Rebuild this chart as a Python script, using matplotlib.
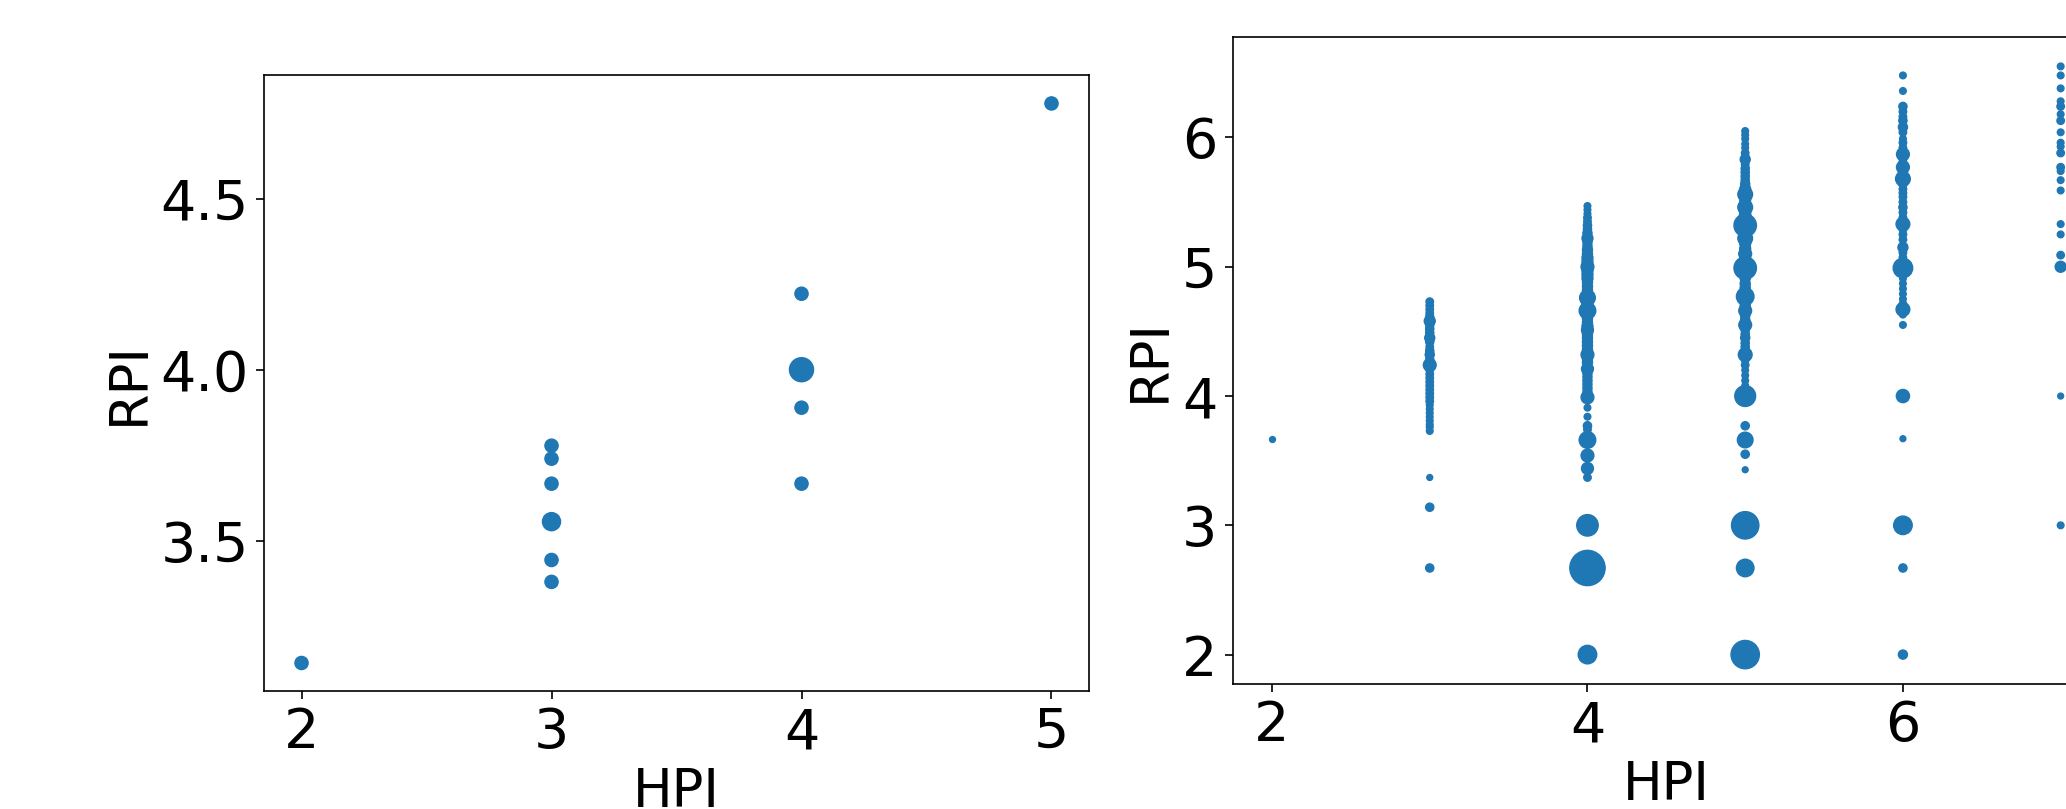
import matplotlib.pyplot as plt

# left panel: mean RPI per HPI (bubble weight ~ number of cases)
hpi_a = [2, 3, 3, 3, 3, 3, 3, 4, 4, 4, 4, 5]
rpi_a = [3.143, 3.778, 3.74, 3.667, 3.556, 3.444, 3.38, 4.222, 4.0, 3.889, 3.667, 4.778]
w_a = [90, 90, 90, 90, 170, 90, 90, 90, 300, 90, 90, 90]

# right panel: (RPI, weight) pairs for each HPI value
col2 = [(3.67, 8)]
col3 = [(4.73, 19), (4.70, 19), (4.67, 19), (4.64, 19), (4.61, 25), (4.58, 52),
        (4.55, 25), (4.52, 25), (4.49, 25), (4.45, 42), (4.42, 25), (4.38, 19),
        (4.35, 25), (4.32, 33), (4.28, 25), (4.24, 75), (4.21, 25), (4.17, 19),
        (4.14, 19), (4.11, 19), (4.08, 19), (4.05, 19), (4.02, 19), (3.99, 19),
        (3.96, 19), (3.93, 13), (3.90, 13), (3.87, 13), (3.84, 13), (3.81, 13),
        (3.78, 13), (3.76, 13), (3.73, 13), (3.37, 8), (3.14, 25), (2.67, 25)]
col4 = [(5.47, 13), (5.44, 13), (5.41, 13), (5.38, 19), (5.35, 19), (5.32, 25),
        (5.29, 25), (5.26, 33), (5.22, 52), (5.19, 33), (5.16, 33), (5.13, 42),
        (5.10, 42), (5.07, 52), (5.04, 52), (5.00, 75), (4.97, 52), (4.94, 52),
        (4.91, 52), (4.88, 42), (4.85, 42), (4.82, 42), (4.79, 52), (4.76, 117),
        (4.73, 52), (4.70, 52), (4.66, 133), (4.63, 52), (4.60, 42), (4.57, 42),
        (4.54, 52), (4.51, 63), (4.48, 42), (4.45, 42), (4.42, 42), (4.39, 42),
        (4.36, 42), (4.32, 75), (4.29, 42), (4.26, 42), (4.21, 63), (4.18, 33),
        (4.15, 33), (4.12, 33), (4.09, 33), (4.06, 33), (4.03, 33), (3.99, 75),
        (3.91, 13), (3.84, 13), (3.77, 25), (3.74, 19), (3.66, 133), (3.54, 75),
        (3.44, 63), (3.37, 19), (3.00, 229), (2.67, 635), (2.00, 168)]
col5 = [(6.05, 13), (6.02, 13), (5.99, 13), (5.95, 13), (5.92, 13), (5.88, 19),
        (5.85, 19), (5.83, 42), (5.79, 19), (5.76, 25), (5.73, 25), (5.70, 25),
        (5.67, 25), (5.64, 33), (5.60, 52), (5.56, 102), (5.52, 52), (5.49, 52),
        (5.46, 102), (5.42, 52), (5.39, 63), (5.35, 63), (5.32, 251), (5.28, 63),
        (5.25, 63), (5.22, 102), (5.18, 52), (5.14, 52), (5.10, 75), (5.06, 52),
        (5.03, 63), (4.99, 251), (4.95, 52), (4.91, 42), (4.87, 42), (4.84, 42),
        (4.81, 52), (4.77, 150), (4.74, 42), (4.70, 42), (4.66, 75), (4.62, 33),
        (4.59, 33), (4.55, 75), (4.51, 25), (4.48, 25), (4.45, 33), (4.41, 25),
        (4.38, 25), (4.35, 25), (4.32, 88), (4.28, 19), (4.24, 19), (4.20, 13),
        (4.16, 13), (4.12, 13), (4.08, 13), (4.04, 13), (4.00, 215), (3.77, 25),
        (3.66, 117), (3.55, 25), (3.43, 8), (3.00, 378), (2.67, 150), (2.00, 406)]
col6 = [(6.48, 13), (6.36, 13), (6.24, 25), (6.20, 19), (6.16, 19), (6.13, 25),
        (6.08, 33), (6.04, 19), (5.99, 13), (5.96, 19), (5.92, 19), (5.87, 75),
        (5.84, 25), (5.80, 25), (5.77, 75), (5.73, 33), (5.68, 102), (5.64, 25),
        (5.60, 19), (5.57, 19), (5.54, 19), (5.50, 19), (5.46, 25), (5.42, 19),
        (5.38, 19), (5.33, 88), (5.29, 19), (5.25, 19), (5.21, 19), (5.15, 42),
        (5.11, 19), (5.07, 19), (5.03, 25), (4.99, 187), (4.95, 19), (4.91, 13),
        (4.87, 13), (4.83, 13), (4.79, 13), (4.75, 13), (4.71, 19), (4.67, 88),
        (4.63, 13), (4.55, 13), (4.00, 80), (3.67, 8), (3.00, 168), (2.67, 25),
        (2.00, 33)]
col7 = [(6.55, 13), (6.48, 13), (6.38, 13), (6.28, 13), (6.24, 19), (6.18, 13),
        (6.13, 19), (6.04, 13), (5.96, 13), (5.93, 13), (5.88, 19), (5.77, 19),
        (5.74, 13), (5.67, 13), (5.59, 13), (5.33, 13), (5.25, 13), (5.09, 19),
        (5.00, 52), (4.00, 8), (3.00, 13)]
columns = {2: col2, 3: col3, 4: col4, 5: col5, 6: col6, 7: col7}

plt.rcParams['font.size'] = 38
plt.rcParams['axes.linewidth'] = 1.2
for a in ('xtick', 'ytick'):
    plt.rcParams[a + '.labelsize'] = 40
    plt.rcParams[a + '.major.size'] = 5.5
    plt.rcParams[a + '.major.width'] = 1.2
    plt.rcParams[a + '.major.pad'] = 5.5

fig = plt.figure(figsize=(20.66, 8.09), dpi=100)
ax1 = fig.add_axes([0.1278, 0.1459, 0.3993, 0.7608])
ax2 = fig.add_axes([0.5966, 0.1545, 0.4199, 0.7998])

# default edge (same colour as face) keeps the small dots visible
ax1.scatter(hpi_a, rpi_a, s=w_a, color='C0')
ax1.set_xticks([2, 3, 4, 5])
ax1.set_yticks([3.5, 4.0, 4.5])
ax1.set_xlabel('HPI')
ax1.set_ylabel('RPI')

for hpi, pts in columns.items():
    vals = [p[0] for p in pts]
    # small offset so the tiny bubbles are not lost
    sizes = [p[1] + 10 for p in pts]
    ax2.scatter([hpi] * len(pts), vals, s=sizes, color='C0')
ax2.set_xticks([2, 4, 6])
ax2.set_yticks([2, 3, 4, 5, 6])
ax2.set_xlabel('HPI')
ax2.set_ylabel('RPI')

fig.savefig('out.png', dpi=100)
